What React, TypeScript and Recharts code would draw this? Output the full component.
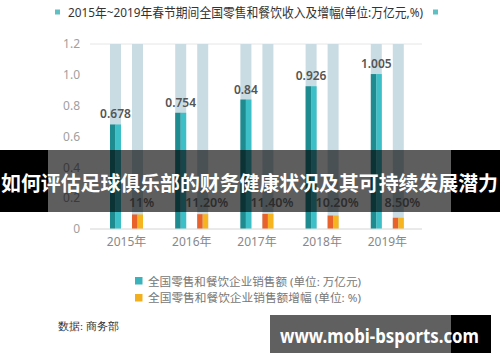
import React from 'react';
import { ComposedChart, Bar, XAxis, YAxis, CartesianGrid, LabelList } from 'recharts';

const years = ['2015年', '2016年', '2017年', '2018年', '2019年'];
const sales = [0.678, 0.754, 0.84, 0.926, 1.005];
const growth = [11, 11.2, 11.4, 10.2, 8.5];
const growthLabels = ['11%', '11.20%', '11.40%', '10.20%', '8.50%'];
const salesTicks = [0, 0.2, 0.4, 0.6, 0.8, 1.0, 1.2];
const seriesNames = ['全国零售和餐饮企业销售额 (单位: 万亿元)', '全国零售和餐饮企业销售额增幅 (单位: %)'];
const title = '2015年~2019年春节期间全国零售和餐饮收入及增幅(单位:万亿元,%)';
const banner = '如何评估足球俱乐部的财务健康状况及其可持续发展潜力';
const source = '数据: 商务部';
const watermark = 'www.mobi-bsports.com';

const data = years.map((year, i) => ({
  year,
  sales: sales[i],
  growth: growth[i],
  growthLabel: growthLabels[i],
}));

const FONT = '"Noto Sans", "Noto Sans CJK SC", sans-serif';
const BG = '#c9dce3';

// bars are drawn in two tones, darker left half and lighter right half
const twoTone = (left: string, right: string) => (props: any) => {
  const { x, y, width, height } = props;
  if (!height || height <= 0) return <g />;
  const half = width / 2;
  return (
    <g>
      <rect x={x} y={y} width={half} height={height} fill={left} />
      <rect x={x + half} y={y} width={width - half} height={height} fill={right} />
    </g>
  );
};

// growth labels sit at a fixed distance above the baseline
const GrowthLabel = (props: any) => {
  const vb = props.viewBox || {};
  const x = Number(props.x ?? vb.x);
  const y = Number(props.y ?? vb.y);
  const width = Number(props.width ?? vb.width);
  const height = Number(props.height ?? vb.height);
  if (!isFinite(x) || !isFinite(y)) return null;
  return (
    <text
      x={x + width / 2 + 4}
      y={y + height - 22.5}
      textAnchor="middle"
      fontSize={12.5}
      fontWeight={600}
      fill="#7a7a7a"
      fontFamily={FONT}
    >
      {props.value}
    </text>
  );
};

const legendColors = ['#3bb3bc', '#f2b01e'];

export default function App() {
  return (
    <div style={{ position: 'relative', width: 500, height: 362, background: '#fff', fontFamily: FONT }}>
      <style>{`body { margin: 0; }`}</style>
      <ComposedChart
        width={500}
        height={362}
        data={data}
        margin={{ top: 44, right: 78, bottom: 103, left: 30 }}
        barSize={11}
        barGap={11}
      >
        <CartesianGrid vertical={false} stroke="#e6e6e6" />
        <XAxis
          dataKey="year"
          axisLine={{ stroke: '#e0e0e0' }}
          tickLine={false}
          padding={{ left: 4, right: 2 }}
          height={30}
          tick={{ fill: '#888', fontSize: 12, fontFamily: FONT }}
        />
        <YAxis
          yAxisId="left"
          width={60}
          domain={[0, 1.2]}
          ticks={salesTicks}
          tickFormatter={(v: number) => (v === 0 ? '0' : v.toFixed(1))}
          axisLine={false}
          tickLine={false}
          tickMargin={4}
          tick={{ fill: '#a0a0a0', fontSize: 12, fontFamily: FONT }}
        />
        <YAxis yAxisId="right" orientation="right" hide domain={[0, 140]} />
        <Bar
          yAxisId="left"
          dataKey="sales"
          name={seriesNames[0]}
          fill={legendColors[0]}
          background={{ fill: BG }}
          shape={twoTone('#1e8b90', '#3cbfc6')}
          isAnimationActive={false}
        >
          <LabelList
            dataKey="sales"
            position="top"
            offset={6}
            fill="#555"
            fontSize={12}
            fontWeight={600}
            fontFamily={FONT}
          />
        </Bar>
        <Bar
          yAxisId="right"
          dataKey="growth"
          name={seriesNames[1]}
          fill={legendColors[1]}
          background={{ fill: BG }}
          shape={twoTone('#e9622b', '#f6b41e')}
          isAnimationActive={false}
        >
          <LabelList dataKey="growthLabel" content={GrowthLabel} />
        </Bar>
      </ComposedChart>

      <svg
        width={500}
        height={362}
        style={{ position: 'absolute', left: 0, top: 0, pointerEvents: 'none' }}
      >
        {/* title */}
        <rect x={55} y={9.5} width={5} height={5} fill="#5fc0c4" />
        <text x={68} y={17} fontSize={13} fill="#333" fontFamily={FONT} textLength={355} lengthAdjust="spacingAndGlyphs">
          {title}
        </text>
        <rect x={433} y={9.5} width={5} height={5} fill="#5fc0c4" />

        {/* banner */}
        <rect x={0} y={150} width={48} height={62} fill="#000" />
        <rect x={451} y={150} width={49} height={62} fill="#000" />
        <rect x={48} y={150} width={403} height={62} fill="rgba(0,0,0,0.63)" />
        <text
          x={1}
          y={191}
          fontSize={20}
          fontWeight={700}
          fill="#fff"
          fontFamily={FONT}
          textLength={497}
          lengthAdjust="spacingAndGlyphs"
        >
          {banner}
        </text>

        {/* legend */}
        {seriesNames.map((name, i) => (
          <g key={name}>
            <rect x={135} y={277 + i * 17} width={7.5} height={7.5} fill={legendColors[i]} />
            <text
              x={148}
              y={285.5 + i * 16}
              fontSize={11.5}
              fill="#777"
              fontFamily={FONT}
              textLength={213}
              lengthAdjust="spacingAndGlyphs"
            >
              {name}
            </text>
          </g>
        ))}

        {/* source */}
        <text x={58} y={330} fontSize={11} fill="#333" fontFamily="serif">
          {source}
        </text>

        {/* watermark */}
        <rect x={270} y={315} width={221} height={38} fill="#000" />
        <rect x={270} y={315} width={181} height={38} fill="#606060" />
        <text
          x={280}
          y={343}
          fontSize={20}
          fontWeight={700}
          fill="#fff"
          fontFamily={FONT}
          textLength={199}
          lengthAdjust="spacingAndGlyphs"
        >
          {watermark}
        </text>
      </svg>
    </div>
  );
}
